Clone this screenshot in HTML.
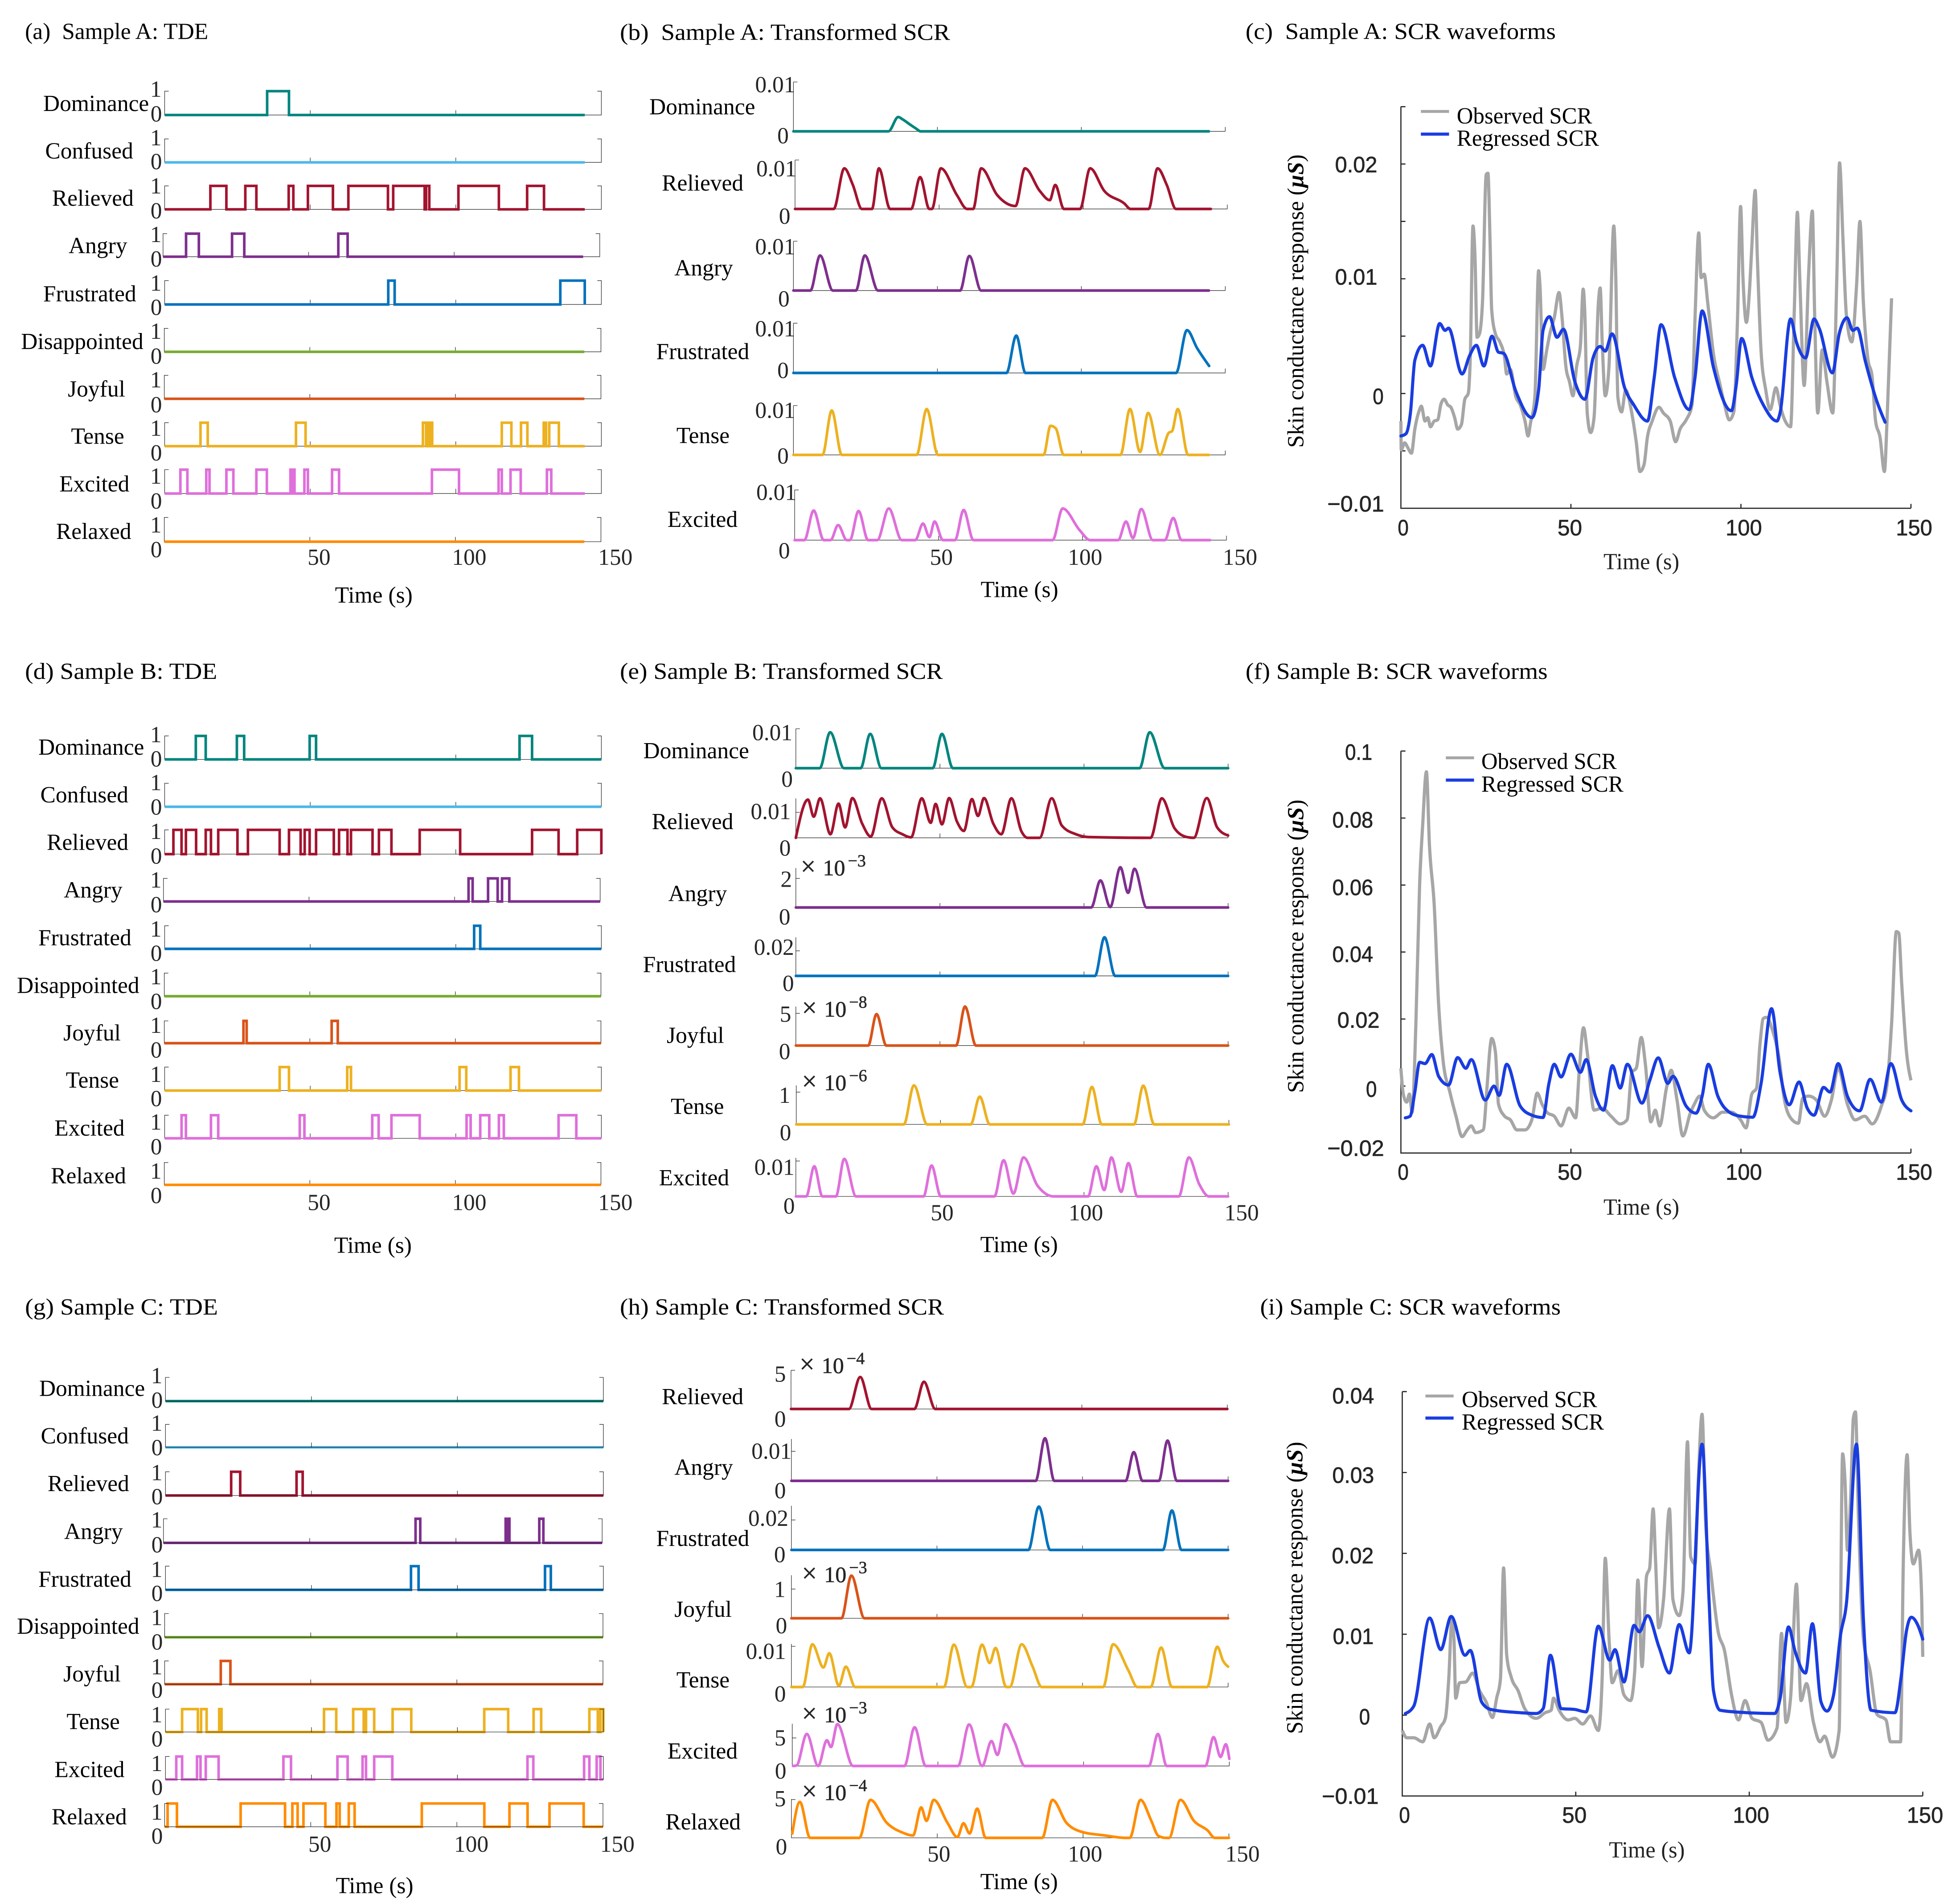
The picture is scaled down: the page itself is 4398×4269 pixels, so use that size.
<!DOCTYPE html>
<html lang="en">
<head>
<meta charset="utf-8">
<title>Sample TDE and SCR figure</title>
<style>
html,body{margin:0;padding:0;background:#fff;}
svg{display:block;position:absolute;left:0;top:0;}
text{font-family:"Liberation Serif","DejaVu Serif",serif;}
</style>
</head>
<body>
<svg id="figure" xmlns="http://www.w3.org/2000/svg" width="4398" height="4269" viewBox="0 0 4398 4269">
<rect width="4398" height="4269" fill="#ffffff"/>
</svg>
<script>
/* ---------- shared categories ---------- */
const emotionColors = {Dominance:'#00857e',Confused:'#4db8e8',Relieved:'#a2142f',Angry:'#7e2f8e',Frustrated:'#0072bd',Disappointed:'#77ac30',Joyful:'#d95319',Tense:'#edb120',Excited:'#df6fdb',Relaxed:'#ff8c00'};
const tdeEmotions = ['Dominance','Confused','Relieved','Angry','Frustrated','Disappointed','Joyful','Tense','Excited','Relaxed'];
const xTickValues = [50,100,150];
const xTickLabels = ['50','100','150'];

/* ---------- panel (a): on/off event times in seconds ---------- */
const aDominance = [[35.2,42.7]];
const aConfused = [];
const aRelieved = [[15.7,21.2],[27.7,31.5],[42.6,44.2],[49.2,57.8],[63.1,76.7],[78.5,89.3],[89.8,90.9],[100.9,114.8],[124.5,130.3]];
const aAngry = [[7.9,12.3],[23.7,27.9],[60.2,63.4]];
const aFrustrated = [[76.8,79],[135.9,144.3]];
const aDisappointed = [];
const aJoyful = [];
const aTense = [[12.3,14.8],[45.1,48.4],[88.7,89.8],[90.5,90.9],[91.4,91.9],[115.8,119.1],[122.4,124.6],[130.2,131],[132.1,135.4]];
const aExcited = [[5.4,7.8],[14.3,15.4],[21.2,23.6],[31.5,35.1],[43.2,43.6],[44,44.6],[48,49.2],[57.5,59.9],[91.8,101.1],[114.7,115.8],[118.8,122.3],[131.3,132.8]];
const aRelaxed = [];

/* ---------- panel (d) ---------- */
const dDominance = [[10.7,14.1],[24.8,27.3],[49.8,52],[121.9,126.2]];
const dConfused = [];
const dRelieved = [[3,5.8],[7.3,10.8],[14.1,15.9],[18.4,25],[28.6,39.5],[42.7,46.7],[48.1,49.8],[52,58.1],[59.9,62.8],[64,71.4],[73.6,77.9],[87.6,101.5],[126.2,135.3],[141.7,150]];
const dAngry = [[104.8,106.2],[111.5,114.8],[116.3,118.8]];
const dFrustrated = [[106.3,108.4]];
const dDisappointed = [];
const dJoyful = [[27.2,28.3],[57.5,59.6]];
const dTense = [[39.5,42.7],[62.7,64],[101.3,103.6],[118.8,121.7]];
const dExcited = [[5.8,7.3],[15.9,18.4],[46.4,48],[71.3,73.5],[77.9,87.6],[103.7,105.1],[108.4,111.5],[114.8,116.5],[135.3,141.4]];
const dRelaxed = [];

/* ---------- panel (g) ---------- */
const gDominance = [];
const gConfused = [];
const gRelieved = [[22.5,25.6],[44.9,47]];
const gAngry = [[86.2,87.8],[117,117.5],[117.8,118.3],[128.5,129.9]];
const gFrustrated = [[84.1,86.7],[130,132]];
const gDisappointed = [];
const gJoyful = [[19.2,22.5]];
const gTense = [[5.7,11.1],[12.2,14.1],[18.4,19.2],[54.3,58.5],[64.3,67.9],[68.7,71.5],[77.8,84.2],[109.2,117.4],[126.1,128.7],[145.2,148.1],[149,150]];
const gExcited = [[3.7,5.7],[10.8,12],[13.8,18.2],[40.4,43],[58.9,62.4],[67.5,68.7],[71.5,77.7],[124,126],[143.4,145.2],[147.7,149]];
const gRelaxed = [[1,4.2],[26,41.2],[43.7,45.5],[47.5,55],[58.8,59.9],[63,65],[88,109.4],[118,124.2],[131.7,143.4]];

/* ---------- panel (b): transformed SCR [time s, value] ---------- */
const bDominance = [[0,0],[33,0],[36.4,.0029],[38,.0024],[40.7,.0013],[42.5,.0006],[44.2,0],[144.3,0]];
const bRelieved = [[0,0],[13.4,0],[17.1,.0083],[20,.005],[23.2,0],[26.7,0],[29.1,.0083],[33,0],[40.3,0],[43.4,.0065],[46.6,0],[47.5,0],[50.6,.0083],[56.2,.0028],[59.7,0],[61.8,0],[64.6,.0083],[70.2,.0028],[76.5,.0006],[79.8,.0083],[84.9,.0037],[88.4,.0018],[90.3,.0049],[93.3,0],[98.9,0],[102.4,.0083],[107.3,.0037],[114.3,.0011],[116.4,0],[122.7,0],[125.8,.0083],[129,.0049],[132.2,0],[144.3,0]];
const bAngry = [[0,0],[5.9,0],[9.25,.0071],[13.7,0],[21.7,0],[24.8,.0071],[29.4,0],[57.9,0],[61.1,.007],[65.2,0],[144.3,0]];
const bFrustrated = [[0,0],[74,0],[77.4,.0075],[80.6,0],[132.9,0],[136.7,.0086],[140.2,.005],[144.4,.0014]];
const bTense = [[0,0],[10.1,0],[13.3,.009],[16.8,0],[42.8,0],[46.3,.0093],[50.2,0],[86.9,0],[89.3,.0059],[91.1,.0054],[93.9,0],[113.6,0],[116.9,.0093],[120.4,.0006],[123.2,.0085],[127.3,0],[130.4,.0045],[131.5,.0048],[133.5,.0093],[137.1,0],[144.3,0]];
const bExcited = [[0,0],[3.4,0],[6.6,.0059],[10.1,0],[12.5,0],[15.1,.003],[18.1,0],[19.2,0],[22.2,.0058],[25.5,0],[28.7,0],[32.7,.0063],[37.2,0],[41.9,0],[44.6,.0033],[46.8,.0006],[48.6,.0037],[51.5,0],[55.7,0],[58.7,.006],[62.1,0],[89.6,0],[93.1,.0063],[99.1,.0019],[102.6,0],[112.4,0],[115.1,.0037],[117.5,.0004],[120.4,.0062],[124.4,0],[128.6,0],[131.5,.0044],[134.4,0],[144.3,0]];

/* ---------- panel (e) ---------- */
const eDominance = [[0,0],[8.3,0],[11.9,.0091],[16.7,0],[22.5,0],[25.8,.0087],[29.7,0],[47.5,0],[50.7,.0087],[54.5,0],[119.3,0],[122.8,.0091],[128,0],[150,0]];
const eRelieved = [[0,0],[4.2,.015],[6.2,.0083],[8.4,.0155],[12,.0014],[14.8,.0134],[17.1,.0041],[19.6,.0156],[23,.0056],[26,.0005],[29.8,.0155],[33.5,.0041],[37,.0014],[40,.0002],[43.7,.0155],[46.8,.0059],[48.5,.0133],[50.7,.0053],[53.2,.0156],[55.9,.0064],[58.3,.0027],[61.1,.0152],[63.2,.0086],[65.3,.0156],[68.5,.0056],[71.3,.0014],[74.8,.0155],[78.3,.0025],[80.4,0],[84.6,0],[88.8,.0155],[92.3,.0048],[97.2,.0014],[101.4,.0003],[123.1,0],[127,.0155],[131.5,.0036],[135.7,.0003],[138.1,0],[142.6,.0156],[146.2,.0041],[150,.0009]];
const eAngry = [[0,0],[102.5,0],[105.7,1.86],[109.1,.03],[112.6,2.77],[115.3,1.01],[117.5,2.66],[121.7,0],[150,0]];
const eFrustrated = [[0,0],[103.8,0],[107.1,.0308],[110.8,0],[150,0]];
const eJoyful = [[0,0],[25.1,0],[28,4.88],[31.4,0],[55.6,0],[58.7,6.05],[62.5,0],[150,0]];
const eTense = [[0,0],[37.3,0],[40.8,1.21],[45.4,0],[60.5,0],[63.6,.86],[67.1,0],[99.3,0],[102.5,1.16],[105.9,0],[117.1,0],[120.3,1.2],[124.1,0],[150,0]];
const eExcited = [[0,0],[3.6,0],[6.4,.0085],[9.2,0],[13.9,0],[16.8,.0106],[20.9,0],[44.3,0],[47.1,.0087],[50.3,0],[68.9,0],[72.1,.0102],[75.5,.0008],[79,.011],[83.9,.003],[89.5,0],[101.4,0],[104.3,.0085],[107,.0018],[109.5,.011],[112.9,.0013],[115.4,.0094],[118.5,0],[132.9,0],[136.4,.011],[139.9,.0036],[143.4,0],[150,0]];

/* ---------- panel (h) ---------- */
const hRelieved = [[0,0],[19.9,0],[23.8,4.13],[27.7,0],[42.4,0],[45.7,3.52],[49.6,0],[150,0]];
const hAngry = [[0,0],[83.9,0],[87.1,.0144],[90.3,0],[114.8,0],[117.6,.0097],[120.6,0],[126.2,0],[129.2,.0136],[132.4,0],[150,0]];
const hFrustrated = [[0,0],[81.4,0],[85,.0289],[88.9,0],[127.6,0],[130.7,.0263],[134,0],[150,0]];
const hJoyful = [[0,0],[17.2,0],[20.6,1.46],[25.1,0],[150,0]];
const hTense = [[0,0],[3.9,0],[7.2,.0105],[11,.0048],[13,.0083],[16.3,.0003],[18.7,.005],[21.9,0],[52.4,0],[55.8,.0104],[60.4,0],[61.8,0],[65.5,.0104],[68.1,.0059],[70.1,.0096],[73.8,0],[75,0],[79.1,.0105],[82.8,.0051],[86,0],[107.1,0],[110.5,.0105],[115.8,.004],[118.8,0],[123.4,0],[127,.0097],[130.7,0],[142.8,0],[146.3,.0099],[148.3,.0064],[150,.005]];
const hExcited = [[.3,0],[1.5,.1],[5,5.7],[8.9,0],[11.9,4.58],[13.3,3.38],[15.5,7.46],[20.9,0],[38.5,0],[42,6.9],[45.8,0],[56.9,0],[60.7,7.4],[65.2,0],[68.4,4.44],[70.4,1.97],[73.1,7.46],[76.3,4.3],[79.8,0],[122.4,0],[125.5,5.7],[128.5,0],[141.8,0],[144.6,5.14],[147,1.62],[148.8,3.87],[150,1.27]];
const hRelaxed = [[.3,.57],[2.9,4.69],[6.4,0],[23.3,0],[27.1,4.95],[32.7,1.96],[38.2,.67],[41.7,.31],[44.5,3.97],[46.3,2.22],[48.8,4.95],[53.5,1.96],[56.9,.1],[59,1.9],[61.1,.57],[63.7,3.81],[66.6,0],[86,0],[89.5,4.95],[94.3,1.96],[99.2,.82],[107.5,.31],[114.4,0],[116,0],[119.7,4.95],[123.4,2.22],[125.8,.26],[128.3,0],[129.5,0],[133.4,4.95],[138,2.22],[142.8,.93],[145.1,0],[150,0]];

/* ---------- panel (c): SCR waveforms [time s, value uS] ---------- */
const cYTicks = [-.01,-.005,0,.005,.01,.015,.02,.025];
const cYTickLabels = ['\u22120.01','','0','','0.01','','0.02',''];
const cObserved = [[0,-.0024],[.1,-.0049],[1.1,-.0043],[2,-.0047],[3.1,-.0052],[4.1,-.0031],[5.5,-.0014],[6,-.0011],[7.1,-.0024],[7.9,-.0021],[8.7,-.0029],[9.8,-.0024],[10.8,-.0023],[11.8,-.0009],[12.7,-.0005],[13.8,-.001],[14.7,-.0012],[15.8,-.0021],[16.7,-.0031],[17.8,-.0027],[18.8,-.0005],[19.8,0],[20.4,.0031],[21.2,.0146],[21.8,.0118],[22.4,.0049],[23.1,.0052],[24,.008],[25.1,.0191],[25.6,.0192],[26.2,.0135],[26.7,.0073],[27.8,.0052],[29.1,.0045],[30.5,.0031],[31.1,.0017],[32.2,.0021],[33.8,-.0003],[35.1,-.001],[36.5,-.0024],[37.4,-.0037],[38.1,-.0026],[39.4,-.0003],[40.5,.0107],[40.9,.0094],[41.8,.0021],[42.9,.0038],[43.8,.0052],[45.1,.0066],[46.5,.0088],[47.4,.0066],[48.5,.0024],[49.6,.001],[50.6,-.0002],[51.7,.0024],[52.8,.0042],[53.6,.0091],[54.1,.0069],[54.8,-.0017],[55.8,-.0034],[56.8,-.0021],[58.1,.008],[58.6,.0092],[59.2,.0045],[60.1,-.0002],[61.2,.0024],[62.6,.0146],[63.2,.0101],[63.8,-.0003],[64.9,-.0016],[66.1,.0003],[67.9,-.0017],[69.2,-.0042],[70.3,-.0068],[71.5,-.0062],[72.5,-.0038],[73.9,-.0024],[75.9,-.0012],[77.2,-.0017],[79.2,-.0024],[80.8,-.0042],[82.1,-.0031],[83.9,-.0023],[85.6,-.001],[86.5,.0066],[87.6,.014],[88.3,.0101],[89.2,.0104],[90.2,.008],[91.9,.0035],[93.9,.0007],[95.2,-.001],[96.6,-.0023],[97.9,-.0016],[99,.0066],[99.9,.0163],[100.6,.0101],[101.6,.0062],[102.6,.0094],[103.2,.0128],[104.2,.0177],[104.8,.0121],[105.9,.0038],[107.3,.0003],[108.6,-.0014],[110.3,.0005],[111.5,-.001],[112.6,-.0021],[114.6,-.0029],[115.7,.0073],[116.6,.0158],[117.3,.0101],[118.6,.0007],[119.9,.0104],[121,.0159],[121.7,.0066],[122.6,-.0017],[123.9,.0038],[125.3,.001],[127,-.0017],[128.2,.0101],[129,.0201],[130,.0135],[131,.0069],[132.6,.0045],[134,.0094],[135,.015],[136,.008],[137.3,.0031],[138.6,.0014],[139.6,-.0024],[140.9,-.0038],[142.2,-.0068],[143,-.0021],[144.3,.0083]];
const cRegressed = [[0,-.0037],[1.5,-.0035],[2.8,-.0017],[4.1,.0029],[6.4,.0042],[8.7,.0024],[11.4,.0061],[13,.0055],[14,.0057],[18,.0017],[20.2,.0033],[22.2,.0042],[24.4,.0024],[26.8,.005],[28.7,.0036],[30.2,.0035],[33.8,.0002],[38.5,-.0021],[40.5,.0003],[41.8,.0055],[43.7,.0067],[45.9,.0049],[47.8,.0056],[51.2,.001],[54.1,-.0005],[56.5,.0031],[58.6,.0041],[60.1,.0037],[62.1,.0052],[65.8,.0005],[68.5,-.001],[72.5,-.0024],[74.5,.0014],[76.5,.006],[80.5,.0014],[84.8,-.0014],[86.5,.0014],[88.6,.0072],[91.9,.0023],[97.2,-.0015],[98.6,.0007],[100.2,.0048],[103.2,.0014],[106.6,-.001],[110.6,-.0024],[111.5,-.0017],[114.6,.0065],[116.3,.0045],[119,.0031],[121.5,.0065],[123,.0057],[126.9,.0018],[128.9,.0052],[131.2,.0066],[132.9,.0055],[134.2,.0057],[136.6,.0028],[140,-.0007],[142.4,-.0025]];

/* ---------- panel (f) ---------- */
const fYTicks = [-.02,0,.02,.04,.06,.08,.1];
const fYTickLabels = ['\u22120.02','0','0.02','0.04','0.06','0.08','0.1'];
const fObserved = [[0,.0053],[.7,-.0024],[1.7,-.0048],[2.5,-.0024],[3.3,-.0078],[4.4,.0184],[5.5,.06],[6.4,.0778],[7.5,.0938],[8.4,.0718],[9.8,.054],[11.1,.0243],[12.4,.0077],[14.4,-.0018],[16.2,-.009],[18,-.0151],[19.5,-.0131],[20.7,-.0119],[22,-.0139],[24.2,-.0131],[25.4,.0006],[26.2,.0113],[26.7,.0142],[27.8,.0101],[28.7,-.0054],[30.5,-.009],[32.2,-.0101],[34.1,-.0131],[36.5,-.0131],[38.5,-.0101],[40.1,-.0021],[41.5,-.0054],[43.1,-.008],[45.1,-.009],[47.1,-.0119],[49.4,-.0066],[51.4,-.0095],[52.5,.0053],[53.7,.0174],[54.8,.0101],[56.8,-.0072],[59.2,-.0066],[61.8,-.009],[64.5,-.0113],[66.5,-.0101],[67.9,.0041],[69.2,.0053],[70.7,.0145],[71.9,.0065],[73.5,-.0107],[74.8,-.0072],[76.1,-.0119],[78.1,-.0006],[79.5,.0047],[81.2,-.0042],[82.9,-.0149],[85.2,-.0078],[86.3,-.0054],[87.9,-.003],[89.2,-.0072],[91.9,-.0095],[94.6,-.0078],[97.2,-.0078],[99.9,-.0101],[101.5,-.0125],[103.2,-.0024],[104.6,-.0006],[105.6,.0124],[106.6,.0202],[107.5,.0205],[109.3,.0166],[111.3,.0077],[112.6,-.003],[114.6,-.0095],[116.9,-.0111],[118.2,-.0036],[119.9,-.003],[122.2,-.0042],[124.6,-.009],[126.6,-.0042],[128.6,.0053],[131.3,-.0054],[133.6,-.0101],[136.4,-.009],[138.6,-.0113],[141.3,-.006],[143,.0006],[144.3,.0184],[145.7,.0461],[146.4,.0457],[147.3,.0303],[148.7,.0101],[150,.0017]];
const fRegressed = [[1.3,-.0095],[2.7,-.009],[4.1,-.0018],[5.5,.0071],[7.1,.0067],[9.1,.0094],[11.1,.0029],[14,.0003],[16.7,.0085],[19.1,.0053],[20.7,.0079],[24.8,-.0042],[27.4,0],[28.9,-.0028],[31.1,.0065],[35.1,-.006],[38.5,-.0087],[41.8,-.0094],[43.5,.0006],[45.1,.0065],[47.1,.0027],[50,.0095],[52.8,.0041],[54.5,.0079],[57.2,-.003],[59.6,-.0072],[62.2,.0061],[64.5,-.0006],[66.6,.0065],[70.9,-.0051],[73.2,.0017],[75.7,.0084],[78.5,.0008],[80,.0029],[83.9,-.006],[86.8,-.0081],[88.6,-.003],[90.4,.0065],[93.2,-.003],[96.6,-.0078],[99.9,-.009],[103.5,-.0093],[105.9,.0006],[109,.0231],[111.5,.0041],[114.2,-.0056],[117.1,.0012],[119.5,-.0066],[121.5,-.0087],[124.3,-.0004],[126.2,-.0018],[128.6,.0067],[131.3,-.003],[134.9,-.0074],[138,.002],[141.3,-.0048],[144.1,.0067],[147.3,-.0042],[150,-.0074]];

/* ---------- panel (i) ---------- */
const iYTicks = [-.01,0,.01,.02,.03,.04];
const iYTickLabels = ['\u22120.01','0','0.01','0.02','0.03','0.04'];
const iObserved = [[0,-.0019],[1.3,-.0028],[3.3,-.0028],[5.9,-.0033],[7.9,-.0011],[9.2,-.0028],[11.1,-.0014],[12.4,-.0004],[13.4,.0045],[14.3,.0118],[14.9,.0094],[15.4,.0021],[16.5,.004],[18.3,.0041],[20.3,.0052],[22.3,.003],[24.2,.0016],[26,-.0003],[27.2,.0021],[28.3,.0045],[29.2,.0182],[30.1,.0074],[31.4,.0047],[33.4,.003],[35.3,.0008],[38.6,-.0004],[41.2,.0003],[42.9,.0006],[43.6,.0021],[45.2,.0006],[47.8,-.0006],[49.7,-.0004],[52,-.0011],[54.3,-.0001],[56.5,-.0019],[57.6,.0045],[58.5,.0194],[59.6,.0094],[60.5,.004],[62.2,.0055],[63.9,.0025],[65.8,.0018],[67,.0055],[67.9,.0167],[69.1,.006],[70.4,.0172],[71.3,.0182],[72.3,.0255],[73,.0191],[73.9,.0108],[75.3,.0143],[77,.0255],[78,.0143],[79.8,.0123],[80.9,.0152],[82.2,.0338],[83.1,.0196],[84.4,.0187],[85.3,.0289],[86.4,.0372],[87.4,.024],[89,.0174],[91,.0104],[92.9,.0079],[94.9,.0025],[96.9,-.0006],[98.8,.0018],[100.8,-.0004],[103.4,-.0009],[105.4,-.0031],[108,-.0016],[109.3,.0101],[110.6,-.0009],[111.9,.0021],[113.6,.0162],[114.9,.0018],[116.5,.0039],[118.5,-.0009],[120.4,-.0033],[121.7,-.0026],[124,-.0052],[125.9,-.0019],[126.9,.0323],[127.6,.0289],[128.3,.0204],[129.3,.0279],[130,.0367],[130.6,.0375],[131.5,.024],[132.9,.0094],[134.8,.0055],[136.8,.0001],[139.4,-.0006],[140.7,-.0033],[143.6,-.0033],[144.4,.0191],[145.5,.0322],[146.3,.0226],[147.3,.0187],[148.8,.0204],[149.7,.0143],[150,.0072]];
const iRegressed = [[.9,.0002],[3.3,.0011],[7.9,.012],[11.1,.0081],[14.1,.0122],[18.1,.0074],[19.6,.008],[22.9,.0016],[25.5,.0007],[34,.0003],[38.6,.0002],[40.6,.0008],[42.7,.0074],[45.8,.0008],[49.7,.0007],[53,.0004],[56.5,.011],[59.8,.0068],[61.3,.0081],[63.9,.0041],[66.8,.0111],[68.3,.0103],[70.7,.0123],[74,.0084],[77,.0052],[79.8,.0112],[82.7,.0077],[86.4,.0335],[88.4,.0143],[89.7,.003],[91.6,.0006],[99.5,.0003],[107.3,.0002],[108.9,.0021],[111.3,.0109],[113.2,.0079],[116.2,.0052],[118.2,.0113],[120.7,.0016],[122.4,.0005],[124.3,.0025],[126.3,.0099],[128,.0138],[130.9,.0335],[132.9,.0118],[135.1,.0006],[142,.0003],[143.7,.0045],[145.3,.0104],[146.7,.0121],[148.6,.0111],[150,.0094]];

/* ---------- layout tables (geometry only, no data) ---------- */
/* nameX,nameY,xLeft,xRight,top,base,oneY,zeroY */
const aLayout = [[107,279,408,1490,229,289,243,305],[112,398,408,1490,349,408,365,425],[129,517,408,1490,467,526,486,549],[170,636,404,1486,587,645,608,670],[107,757,408,1490,705,765,730,791],[52,877,407,1489,825,884,851,914],[168,996,407,1489,943,1002,973,1036],[176,1115,408,1490,1062,1121,1095,1157],[147,1235,408,1490,1180,1240,1215,1278],[139,1354,407,1489,1300,1361,1338,1400]];
const dLayout = [[95,272,408,1490,225,284,241,302],[100,392,408,1490,344,403,361,423],[116,511,408,1490,461,522,484,546],[158,631,405,1487,583,641,606,668],[95,751,408,1490,702,760,729,790],[42,871,407,1489,821,879,849,911],[157,990,407,1489,941,997,971,1033],[163,1109,408,1490,1057,1116,1094,1155],[135,1229,408,1490,1178,1236,1214,1276],[126,1349,407,1489,1297,1353,1337,1399]];
const gLayout = [[97,284,410,1495,237,297,252,314],[101,404,410,1495,356,414,372,434],[118,525,410,1495,476,536,497,558],[159,646,405,1492,595,656,617,680],[95,767,410,1495,715,775,742,803],[42,886,408,1494,835,895,864,926],[157,1007,408,1494,955,1014,989,1048],[165,1128,410,1495,1077,1135,1110,1172],[135,1249,410,1495,1197,1255,1234,1294],[128,1369,408,1494,1316,1375,1357,1418]];

/* label,nameX,nameY,xL,xR,top,base,tickY,tickText,tickX,tickTextY,zeroX,zeroY,expText,expX,expY */
const bLayout = [
['Dominance',63,287,420,1490,206,330,206,'0.01',325,232,380,360],
['Relieved',94,479,424,1495,402,525,402,'0.01',328,443,384,562],
['Angry',125,692,420,1490,606,730,606,'0.01',325,639,382,770],
['Frustrated',80,902,420,1490,812,937,812,'0.01',325,845,380,950],
['Tense',130,1113,420,1490,1019,1143,1019,'0.01',325,1050,380,1165],
['Excited',108,1324,423,1493,1231,1357,1231,'0.01',328,1256,383,1403]];
const eLayout = [
['Dominance',48,281,426,1497,207,306,207,'0.01',318,236,390,353],
['Relieved',69,459,426,1497,382,481,417,'0.01',314,434,385,526],
['Angry',110,640,426,1497,557,656,583,'2',388,604,384,699,'\u22123',438,575],
['Frustrated',47,818,426,1497,731,828,765,'0.02',322,775,393,866],
['Joyful',106,996,426,1497,905,1003,922,'5',386,943,384,1037,'\u22128',441,930],
['Tense',116,1175,427,1499,1103,1201,1120,'1',384,1147,386,1241,'\u22126',441,1115],
['Excited',87,1354,426,1497,1285,1382,1293,'0.01',323,1328,395,1425]];
const hLayout = [
['Relieved',94,305,414,1495,219,317,219,'5',373,248,373,362,'\u22124',435,226],
['Angry',125,484,415,1497,393,499,424,'0.01',316,443,373,543],
['Frustrated',80,664,415,1497,562,674,598,'0.02',308,613,372,705],
['Joyful',125,843,415,1497,738,847,773,'1',372,793,376,885,'\u22123',441,755],
['Tense',130,1022,415,1497,912,1021,918,'0.01',302,950,373,1058],
['Excited',108,1202,417,1500,1114,1221,1150,'5',373,1169,374,1253,'\u22123',441,1110],
['Relaxed',103,1382,415,1499,1305,1403,1306,'5',373,1323,376,1445,'\u22124',441,1307]];

/* ---------- helpers ---------- */
const NS = 'http://www.w3.org/2000/svg';
const root = document.getElementById('figure');
const INK = '#262626';
let kx = 1, ky = 1;
function mk(tag, attrs, parent){
  const e = document.createElementNS(NS, tag);
  for (const k in attrs) e.setAttribute(k, attrs[k]);
  parent.appendChild(e);
  return e;
}
function stroked(tagName, attrs, parent){
  const e = mk(tagName, attrs, parent);
  e.setAttribute('vector-effect', 'non-scaling-stroke');
  return e;
}
function tag(e, name){
  
  
  return e;
}
function unscale(x, y){
  return 'translate(' + x + ' ' + y + ') scale(' + (1 / kx) + ' ' + (1 / ky) + ')';
}
function label(parent, str, x, y, name, opts){
  const o = Object.assign({'font-size':51.5, fill:'#000'}, opts || {});
  if (o.textLength) o.textLength = o.textLength * kx;
  o.transform = unscale(x, y);
  const t = mk('text', o, parent);
  t.textContent = str;
  return tag(t, name);
}
function monotonePath(p){
  const n = p.length;
  if (n < 2) return '';
  const sgn = v => v < 0 ? -1 : 1;
  const tan = new Array(n).fill(0);
  for (let i = 1; i < n - 1; i++){
    const h0 = p[i][0] - p[i-1][0], h1 = p[i+1][0] - p[i][0];
    const s0 = (p[i][1] - p[i-1][1]) / (h0 || 1e-6), s1 = (p[i+1][1] - p[i][1]) / (h1 || 1e-6);
    const q = (s0 * h1 + s1 * h0) / ((h0 + h1) || 1e-6);
    tan[i] = (sgn(s0) + sgn(s1)) * Math.min(Math.abs(s0), Math.abs(s1), 0.5 * Math.abs(q)) || 0;
  }
  const first = (p[1][1] - p[0][1]) / ((p[1][0] - p[0][0]) || 1e-6);
  tan[0] = (3 * first - tan[1]) / 2;
  const last = (p[n-1][1] - p[n-2][1]) / ((p[n-1][0] - p[n-2][0]) || 1e-6);
  tan[n-1] = (3 * last - tan[n-2]) / 2;
  let d = 'M' + p[0][0].toFixed(2) + ' ' + p[0][1].toFixed(2);
  for (let i = 0; i < n - 1; i++){
    const dx = (p[i+1][0] - p[i][0]) / 3;
    d += 'C' + (p[i][0] + dx).toFixed(2) + ' ' + (p[i][1] + dx * tan[i]).toFixed(2) + ' ' +
         (p[i+1][0] - dx).toFixed(2) + ' ' + (p[i+1][1] - dx * tan[i+1]).toFixed(2) + ' ' +
         p[i+1][0].toFixed(2) + ' ' + p[i+1][1].toFixed(2);
  }
  return d;
}
function panelGroup(id, sx, ox, oy){
  kx = sx;
  ky = (oy === 2880 ? 1389 : 1400) / 1568;
  const g = mk('g', {transform:'translate(' + ox + ' ' + oy + ') scale(' + kx + ' ' + ky + ')'}, root);
  return tag(g, 'panel-' + id);
}
const K12 = 1420 / 1568, K3 = 1598 / 1568;

/* ---------- TDE panels ---------- */
function drawTde(c){
  const g = panelGroup(c.id, K12, 0, c.oy);
  label(g, c.title, c.titleX, c.titleY, 'panel-title', {textLength:c.titleLen, lengthAdjust:'spacingAndGlyphs'});
  tdeEmotions.forEach((em, i) => {
    const L = c.layout[i], pulses = c.series[i];
    const xL = L[2], xR = L[3], top = L[4], base = L[5];
    const x = t => xL + t / 150 * (xR - xL);
    const y = v => base - v * (base - top);
    const row = tag(mk('g', {}, g), 'row-' + em.toLowerCase());
    label(row, em, L[0], L[1], 'row-label');
    label(row, '1', c.oneX, L[6], 'y-tick-label-1', {fill:INK});
    label(row, '0', c.zeroX, L[7], 'y-tick-label-0', {fill:INK});
    const axis = () => {
      let d = 'M' + (xL + 10) + ' ' + top + 'H' + xL + 'V' + base + 'H' + xR + 'V' + top + 'H' + (xR - 10);
      xTickValues.slice(0, 2).forEach(v => { d += 'M' + x(v) + ' ' + base + 'v-12'; });
      tag(stroked('path', {d:d, fill:'none', stroke:INK, 'stroke-width':1.2}, row), 'row-axes');
    };
    if (!c.axesOnTop) axis();
    let d = 'M' + x(0) + ' ' + y(0);
    pulses.forEach(p => {
      d += 'L' + x(p[0]) + ' ' + y(0) + 'L' + x(p[0]) + ' ' + y(1) + 'L' + x(p[1]) + ' ' + y(1) + 'L' + x(p[1]) + ' ' + y(0);
    });
    d += 'L' + x(c.endT) + ' ' + y(0);
    tag(stroked('path', {d:d, fill:'none', stroke:emotionColors[em], 'stroke-width':5.8, 'stroke-linejoin':'miter'}, row), 'series-line');
    if (c.axesOnTop) axis();
  });
  xTickLabels.forEach((s, i) => label(g, s, c.xLabelX[i], c.xLabelY, 'x-tick-label-' + s, {fill:INK}));
  label(g, 'Time (s)', c.timeX, c.timeY, 'x-axis-title');
}

/* ---------- transformed SCR panels ---------- */
function drawScr(c){
  const g = panelGroup(c.id, K12, 1400, c.oy);
  label(g, c.title, c.titleX, c.titleY, 'panel-title', {textLength:c.titleLen, lengthAdjust:'spacingAndGlyphs'});
  c.layout.forEach((L, i) => {
    const em = L[0], xL = L[3], xR = L[4], top = L[5], base = L[6], tickY = L[7], tickVal = parseFloat(L[8]);
    const x = t => xL + t / 150 * (xR - xL);
    const y = v => base - v / tickVal * (base - tickY);
    const row = tag(mk('g', {}, g), 'row-' + em.toLowerCase());
    label(row, em, L[1], L[2], 'row-label');
    label(row, L[8], L[9], L[10], 'y-tick-label-top', {fill:INK});
    label(row, '0', L[11], L[12], 'y-tick-label-0', {fill:INK});
    if (L[13]){
      const t = tag(mk('text', {transform:unscale(L[14], L[15]), fill:INK, stroke:INK, 'stroke-width':0.7}, row), 'axis-exponent');
      const cross = mk('tspan', {'font-size':60}, t);
      cross.textContent = '\u00d7';
      const ten = mk('tspan', {'font-size':50, dx:16}, t);
      ten.textContent = '10';
      const sup = mk('tspan', {'font-size':38, dx:6, dy:-20}, t);
      sup.textContent = L[13];
    }
    let d = 'M' + xL + ' ' + top + 'V' + base + 'H' + xR + 'M' + xL + ' ' + tickY + 'h10';
    xTickValues.forEach(v => { d += 'M' + x(v) + ' ' + base + 'v-11'; });
    tag(stroked('path', {d:d, fill:'none', stroke:INK, 'stroke-width':1.2}, row), 'row-axes');
    const pts = c.series[i].map(p => [x(p[0]), y(p[1])]);
    tag(stroked('path', {d:monotonePath(pts), fill:'none', stroke:emotionColors[em], 'stroke-width':6, 'stroke-linejoin':'round', 'stroke-linecap':'round'}, row), 'series-line');
  });
  xTickLabels.forEach((s, i) => label(g, s, c.xLabelX[i], c.xLabelY, 'x-tick-label-' + s, {fill:INK}));
  label(g, 'Time (s)', c.timeX, c.timeY, 'x-axis-title');
}

/* ---------- waveform panels ---------- */
function drawWave(c){
  const g = panelGroup(c.id, K3, 2800, c.oy);
  const x = t => c.xL + t / 150 * (c.xR - c.xL);
  const y = v => c.bottom - (v - c.yMin) / (c.yMax - c.yMin) * (c.bottom - c.top);
  const tickFont = {'font-size':50, fill:INK, stroke:INK, 'stroke-width':0.8, lengthAdjust:'spacingAndGlyphs', style:'font-family:"Liberation Sans",sans-serif'};
  label(g, c.title, c.titleX, c.titleY, 'panel-title', {textLength:c.titleLen, lengthAdjust:'spacingAndGlyphs'});
  let d = 'M' + c.xL + ' ' + c.top + 'V' + c.bottom + 'H' + c.xR;
  c.yTicks.forEach(v => { d += 'M' + c.xL + ' ' + y(v) + 'h10'; });
  [0,50,100,150].forEach(v => { d += 'M' + x(v) + ' ' + c.bottom + 'v-11'; });
  tag(stroked('path', {d:d, fill:'none', stroke:INK, 'stroke-width':2.6}, g), 'axes');
  c.yLabels.forEach((s, i) => {
    if (!s) return;
    const P = c.yLabelPos[i];
    label(g, s, P[0], P[1], 'y-tick-label', Object.assign({}, tickFont, {textLength:P[2]}));
  });
  ['0','50','100','150'].forEach((s, i) => {
    const P = c.xLabelPos[i];
    label(g, s, P[0], c.xLabelY, 'x-tick-label-' + s, Object.assign({}, tickFont, {textLength:P[1]}));
  });
  label(g, 'Time (s)', c.timeX, c.timeY, 'x-axis-title', {fill:'#222', textLength:167, lengthAdjust:'spacingAndGlyphs'});
  const yt = tag(mk('text', {transform:unscale(c.yTitleX, c.yTitleY) + ' rotate(-90)', 'font-size':51.5, fill:'#000', textLength:c.yTitleLen * ky, lengthAdjust:'spacingAndGlyphs'}, g), 'y-axis-title');
  yt.appendChild(document.createTextNode('Skin conductance response ('));
  const mu = mk('tspan', {'font-style':'italic', 'font-weight':'bold'}, yt);
  mu.textContent = '\u00b5S';
  yt.appendChild(document.createTextNode(')'));
  const obs = c.observed.map(p => [x(p[0]), y(p[1])]);
  tag(stroked('path', {d:monotonePath(obs), fill:'none', stroke:'#a6a6a6', 'stroke-width':7.2, 'stroke-linejoin':'round'}, g), 'observed-scr-line');
  const reg = c.regressed.map(p => [x(p[0]), y(p[1])]);
  tag(stroked('path', {d:monotonePath(reg), fill:'none', stroke:'#1a3de0', 'stroke-width':7, 'stroke-linejoin':'round', 'stroke-linecap':'round'}, g), 'regressed-scr-line');
  const leg = tag(mk('g', {}, g), 'legend');
  tag(stroked('line', {x1:c.legX1, x2:c.legX2, y1:c.legY[0], y2:c.legY[0], stroke:'#a6a6a6', 'stroke-width':6.5}, leg), 'legend-swatch-observed');
  tag(stroked('line', {x1:c.legX1, x2:c.legX2, y1:c.legY[1], y2:c.legY[1], stroke:'#1a3de0', 'stroke-width':7}, leg), 'legend-swatch-regressed');
  label(leg, 'Observed SCR', c.legTextX, c.legTextY[0], 'legend-entry-observed', {textLength:298, lengthAdjust:'spacingAndGlyphs'});
  label(leg, 'Regressed SCR', c.legTextX, c.legTextY[1], 'legend-entry-regressed', {textLength:313, lengthAdjust:'spacingAndGlyphs'});
}

/* ---------- build ---------- */
const SP = '\u00a0\u00a0';
drawTde({id:'a',oy:0,title:'(a)'+SP+'Sample A: TDE',titleX:62,titleY:98,titleLen:454,endT:144.3,layout:aLayout,oneX:372,zeroX:373,
  series:[aDominance,aConfused,aRelieved,aAngry,aFrustrated,aDisappointed,aJoyful,aTense,aExcited,aRelaxed],
  xLabelX:[762,1120,1482],xLabelY:1419,timeX:830,timeY:1514});
drawTde({id:'d',oy:1450,title:'(d) Sample B: TDE',titleX:62,titleY:82,titleLen:476,endT:150,layout:dLayout,oneX:372,zeroX:373,
  series:[dDominance,dConfused,dRelieved,dAngry,dFrustrated,dDisappointed,dJoyful,dTense,dExcited,dRelaxed],
  xLabelX:[762,1120,1482],xLabelY:1416,timeX:828,timeY:1524});
drawTde({id:'g',oy:2880,title:'(g) Sample C: TDE',titleX:62,titleY:78,titleLen:478,endT:150,layout:gLayout,oneX:374,zeroX:375,axesOnTop:true,
  series:[gDominance,gConfused,gRelieved,gAngry,gFrustrated,gDisappointed,gJoyful,gTense,gExcited,gRelaxed],
  xLabelX:[764,1125,1487],xLabelY:1438,timeX:832,timeY:1543});

drawScr({id:'b',oy:0,title:'(b)'+SP+'Sample A: Transformed SCR',titleX:-10,titleY:100,titleLen:818,layout:bLayout,
  series:[bDominance,bRelieved,bAngry,bFrustrated,bTense,bExcited],
  xLabelX:[758,1100,1484],xLabelY:1419,timeX:884,timeY:1500});
drawScr({id:'e',oy:1450,title:'(e) Sample B: Transformed SCR',titleX:-10,titleY:82,titleLen:800,layout:eLayout,
  series:[eDominance,eRelieved,eAngry,eFrustrated,eJoyful,eTense,eExcited],
  xLabelX:[760,1102,1488],xLabelY:1442,timeX:883,timeY:1522});
drawScr({id:'h',oy:2880,title:'(h) Sample C: Transformed SCR',titleX:-10,titleY:78,titleLen:803,layout:hLayout,
  series:[hRelieved,hAngry,hFrustrated,hJoyful,hTense,hExcited,hRelaxed],
  xLabelX:[752,1100,1490],xLabelY:1463,timeX:883,timeY:1533});

drawWave({id:'c',oy:0,title:'(c)'+SP+'Sample A: SCR waveforms',titleX:-5,titleY:98,titleLen:683,
  xL:337,xR:1460,top:268,bottom:1277,yMin:-.01,yMax:.025,yTicks:cYTicks,yLabels:cYTickLabels,
  yLabelPos:[[175,1285,125],null,[275,1015,24],null,[192,715,93],null,[192,433,93],null],
  xLabelPos:[[330,24],[682,54],[1052,80],[1427,80]],xLabelY:1345,timeX:783,timeY:1430,
  yTitleX:122,yTitleY:1125,yTitleLen:737,observed:cObserved,regressed:cRegressed,
  legX1:381,legX2:443,legY:[280,337],legTextX:460,legTextY:[310,366]});
drawWave({id:'f',oy:1450,title:'(f) Sample B: SCR waveforms',titleX:-5,titleY:82,titleLen:665,
  xL:337,xR:1460,top:263,bottom:1273,yMin:-.02,yMax:.1,yTicks:fYTicks,yLabels:fYTickLabels,
  yLabelPos:[[175,1280,125],[260,1132,24],[197,958,93],[186,793,90],[186,625,90],[186,455,90],[214,285,60]],
  xLabelPos:[[330,24],[682,54],[1052,80],[1427,80]],xLabelY:1340,timeX:783,timeY:1428,
  yTitleX:122,yTitleY:1122,yTitleLen:737,observed:fObserved,regressed:fRegressed,
  legX1:436,legX2:498,legY:[280,336],legTextX:514,legTextY:[308,365]});
drawWave({id:'i',oy:2880,title:'(i) Sample C: SCR waveforms',titleX:27,titleY:78,titleLen:662,
  xL:340,xR:1486,top:273,bottom:1297,yMin:-.01,yMax:.04,yTicks:iYTicks,yLabels:iYTickLabels,
  yLabelPos:[[163,1317,125],[245,1116,24],[187,912,90],[185,708,92],[186,504,92],[186,303,92]],
  xLabelPos:[[333,24],[692,54],[1068,80],[1451,80]],xLabelY:1365,timeX:795,timeY:1453,
  yTitleX:120,yTitleY:1140,yTitleLen:740,observed:iObserved,regressed:iRegressed,
  legX1:391,legX2:453,legY:[284,340],legTextX:471,legTextY:[312,369]});
</script>
</body>
</html>
